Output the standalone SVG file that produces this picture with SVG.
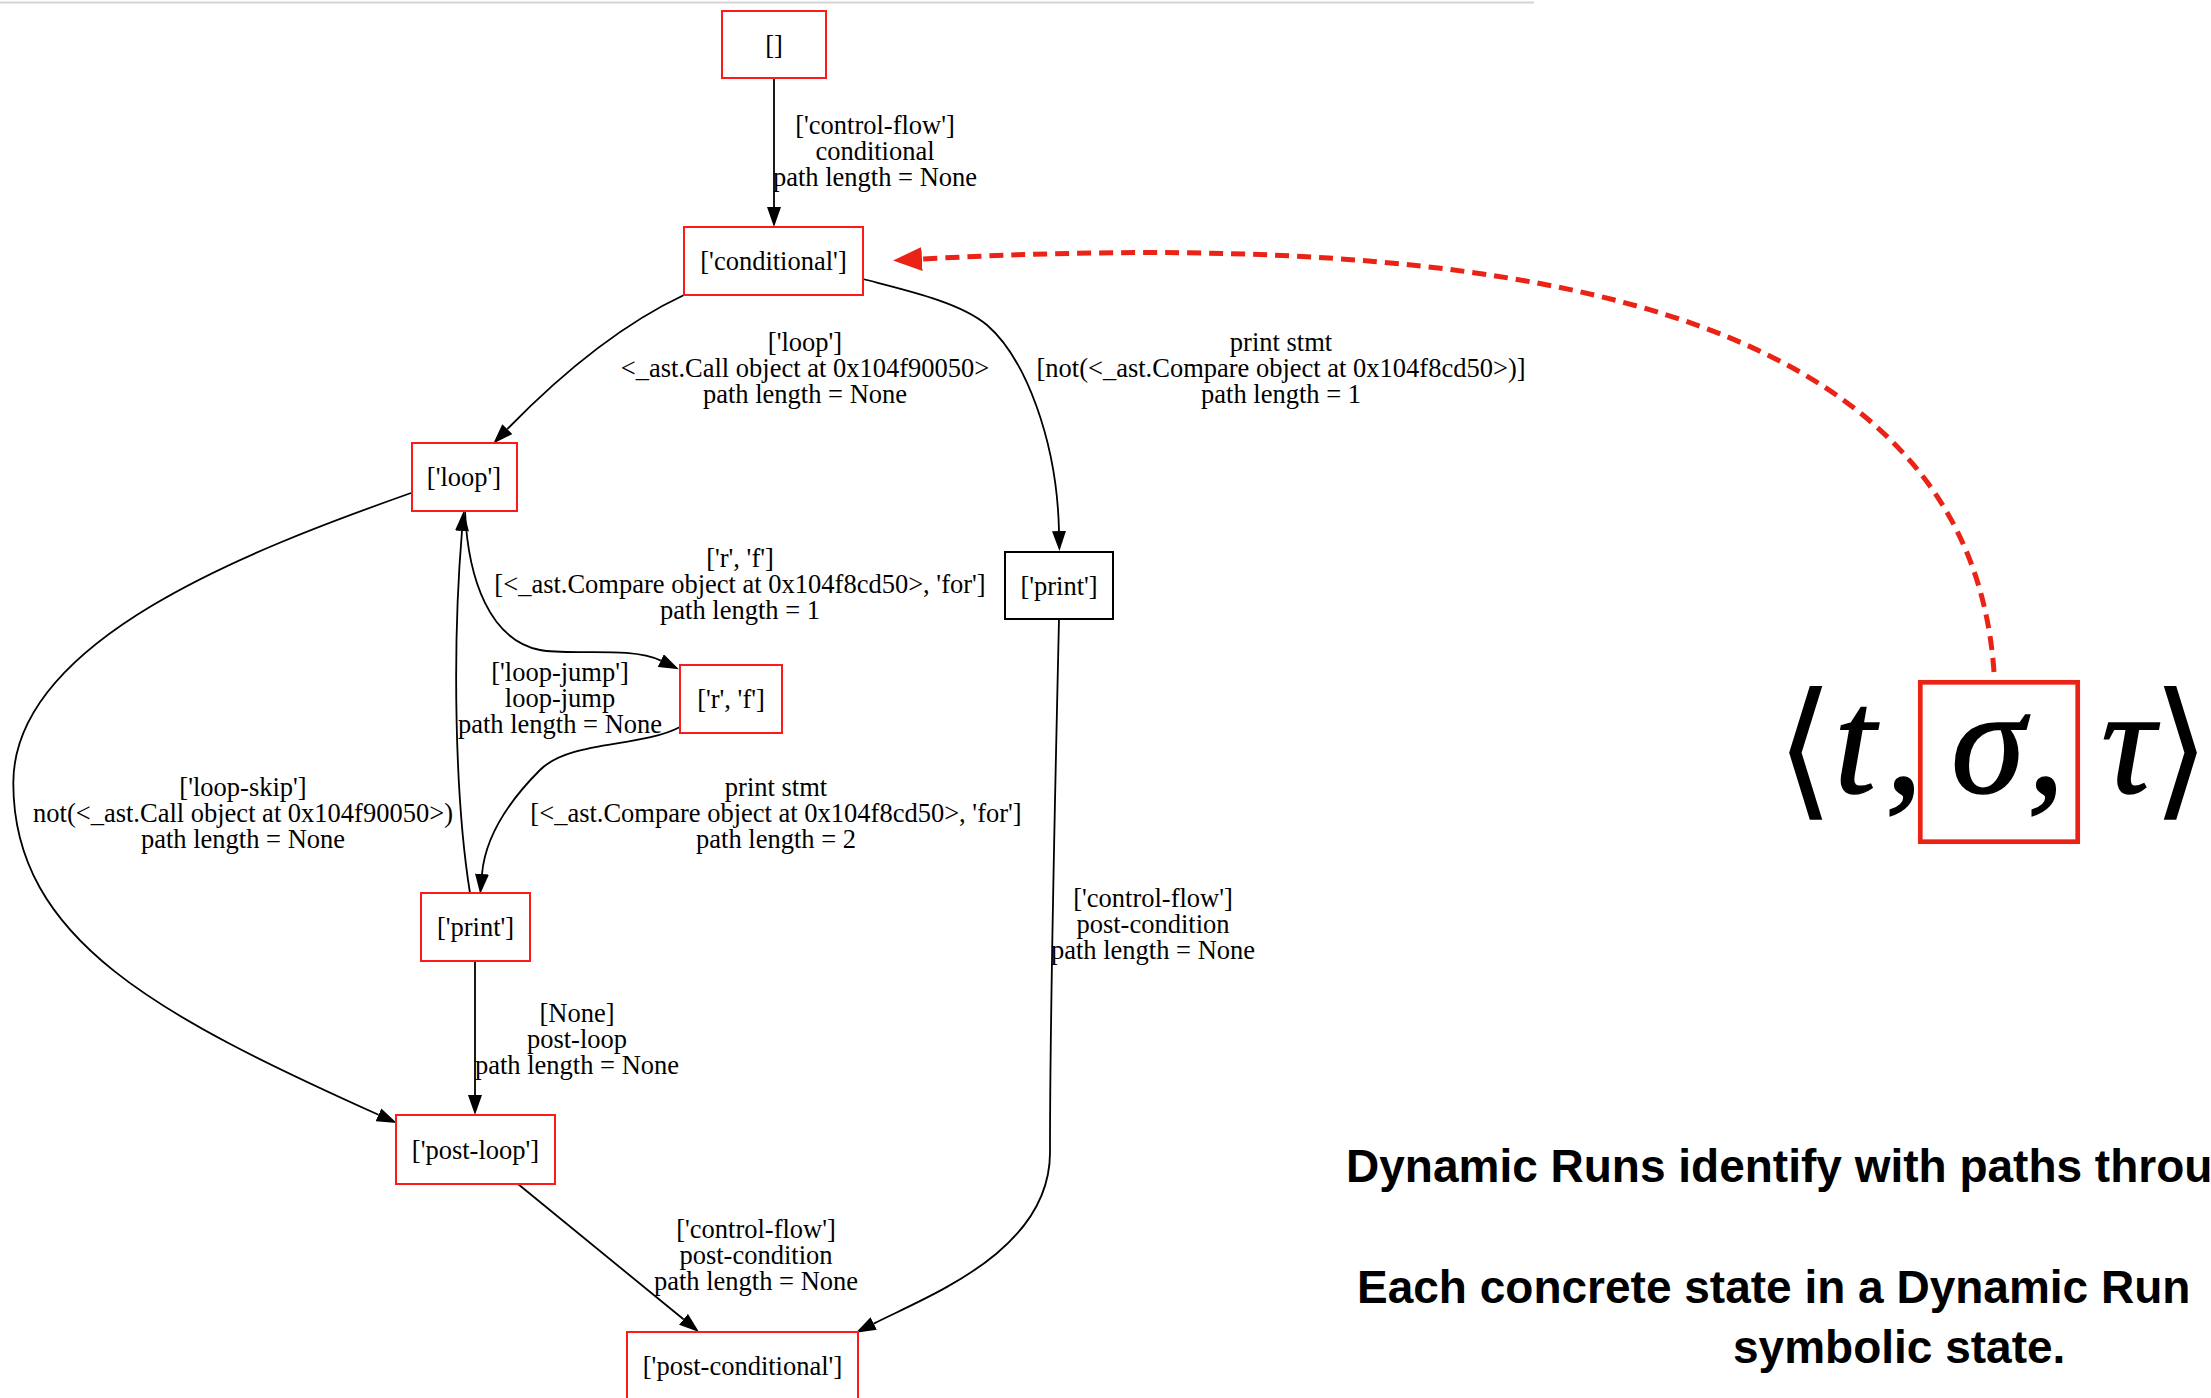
<svg xmlns="http://www.w3.org/2000/svg" width="2211" height="1398" viewBox="0 0 2211 1398">
<style>
.bg{fill:#ffffff}
.nd rect{fill:none;stroke:#ff1a1a;stroke-width:2}
.nd.blk rect{stroke:#000000}
.nd text,.lb text{font-family:"Liberation Serif","Times New Roman",serif;font-size:26.5px;fill:#000;text-anchor:middle}
.ed path{fill:none;stroke:#000;stroke-width:1.8}
.note{font-family:"Liberation Sans",Arial,sans-serif;font-size:46px;font-weight:bold;fill:#000}
.math{font-family:"Liberation Serif","Times New Roman",serif;font-style:italic;font-size:150px;fill:#000;stroke:#000;stroke-width:1.5;text-anchor:middle}
.brk{font-family:"DejaVu Sans","Liberation Serif",serif;font-size:150px;fill:#000;text-anchor:middle}
</style>
<defs>
<marker id="ah" markerUnits="userSpaceOnUse" viewBox="0 0 20 14" markerWidth="20" markerHeight="14" refX="0" refY="7" orient="auto">
<path d="M0,0 L20,7 L0,14 Z" fill="#000"/>
</marker>
<marker id="rah" markerUnits="userSpaceOnUse" viewBox="0 0 29 24" markerWidth="29" markerHeight="24" refX="0" refY="12" orient="auto">
<path d="M0,0 L29,12 L0,24 Z" fill="#ea2316"/>
</marker>
</defs>
<rect class="bg" x="0" y="0" width="2211" height="1398"/>
<line x1="0" y1="2.5" x2="1534" y2="2.5" stroke="#d4d4d4" stroke-width="2"/>

<g id="edges" class="ed">
<path d="M774,78 L774,207" marker-end="url(#ah)"/>
<path d="M684,295 C620,325 560,375 507.3,429.1" marker-end="url(#ah)"/>
<path d="M863,279 C905,290 960,302 987,325 C1025,358 1057,440 1059,531" marker-end="url(#ah)"/>
<path d="M411,493 C250,550 13.3,640 13.3,783 C13.3,940 160,1016.4 378.5,1114.8" marker-end="url(#ah)"/>
<path d="M465,511 C468,580 490,640 540,650 C570,656 630,646 660.8,660.6" marker-end="url(#ah)"/>
<path d="M680,727 C640,748 570,740 540,770 C505,805 485,840 482,874" marker-end="url(#ah)"/>
<path d="M470,893 C455,800 452,650 462,531" marker-end="url(#ah)"/>
<path d="M475,961 L475,1095" marker-end="url(#ah)"/>
<path d="M518,1184 L683.5,1319.3" marker-end="url(#ah)"/>
<path d="M1059,619 C1055,800 1050,1000 1050,1150 C1052,1250 930,1295 873.7,1323.6" marker-end="url(#ah)"/>
</g>

<g id="edge-labels" class="lb">
<text x="875" y="134">['control-flow']</text>
<text x="875" y="160">conditional</text>
<text x="875" y="186">path length = None</text>

<text x="805" y="351">['loop']</text>
<text x="805" y="377">&lt;_ast.Call object at 0x104f90050&gt;</text>
<text x="805" y="403">path length = None</text>

<text x="1281" y="351">print stmt</text>
<text x="1281" y="377">[not(&lt;_ast.Compare object at 0x104f8cd50&gt;)]</text>
<text x="1281" y="403">path length = 1</text>

<text x="740" y="567">['r', 'f']</text>
<text x="740" y="593">[&lt;_ast.Compare object at 0x104f8cd50&gt;, 'for']</text>
<text x="740" y="619">path length = 1</text>

<text x="560" y="680.5">['loop-jump']</text>
<text x="560" y="706.5">loop-jump</text>
<text x="560" y="732.5">path length = None</text>

<text x="243" y="795.5">['loop-skip']</text>
<text x="243" y="821.5">not(&lt;_ast.Call object at 0x104f90050&gt;)</text>
<text x="243" y="847.5">path length = None</text>

<text x="776" y="795.5">print stmt</text>
<text x="776" y="821.5">[&lt;_ast.Compare object at 0x104f8cd50&gt;, 'for']</text>
<text x="776" y="847.5">path length = 2</text>

<text x="1153" y="907">['control-flow']</text>
<text x="1153" y="933">post-condition</text>
<text x="1153" y="959">path length = None</text>

<text x="577" y="1022">[None]</text>
<text x="577" y="1048">post-loop</text>
<text x="577" y="1074">path length = None</text>

<text x="756" y="1238">['control-flow']</text>
<text x="756" y="1264">post-condition</text>
<text x="756" y="1290">path length = None</text>
</g>

<g id="node-empty" class="nd"><rect x="722" y="11" width="104" height="67"/><text x="774" y="53.5">[]</text></g>
<g id="node-conditional" class="nd"><rect x="684" y="227" width="179" height="68"/><text x="773.5" y="270">['conditional']</text></g>
<g id="node-loop" class="nd"><rect x="412" y="443" width="105" height="68"/><text x="464" y="486">['loop']</text></g>
<g id="node-print-black" class="nd blk"><rect x="1005" y="552" width="108" height="67"/><text x="1059" y="594.5">['print']</text></g>
<g id="node-rf" class="nd"><rect x="680" y="665" width="102" height="68"/><text x="731" y="708">['r', 'f']</text></g>
<g id="node-print" class="nd"><rect x="421" y="893" width="109" height="68"/><text x="475.5" y="936">['print']</text></g>
<g id="node-post-loop" class="nd"><rect x="396" y="1115" width="159" height="69"/><text x="475.5" y="1158.5">['post-loop']</text></g>
<g id="node-post-conditional" class="nd"><rect x="627" y="1332" width="231" height="68"/><text x="742.5" y="1375">['post-conditional']</text></g>

<g id="annotation">
<path d="M1994,672 C1968,300 1500,228 922,259" fill="none" stroke="#ea2316" stroke-width="5" stroke-dasharray="14 8" marker-end="url(#rah)"/>
<rect x="1920.3" y="682.3" width="157.4" height="159.4" fill="none" stroke="#ea2316" stroke-width="4.7"/>
<text class="brk" x="1805" y="800">⟨</text>
<text class="math" x="1855" y="793">t</text>
<text class="math" x="1904" y="793">,</text>
<text class="math" x="1988" y="793">σ</text>
<text class="math" x="2046" y="793">,</text>
<text class="math" x="2128" y="793">τ</text>
<text class="brk" x="2181" y="800">⟩</text>
</g>

<g id="notes">
<text class="note" x="1346" y="1182">Dynamic Runs identify with paths throu</text>
<text class="note" x="1357" y="1303">Each concrete state in a Dynamic Run</text>
<text class="note" x="1733" y="1363">symbolic state.</text>
</g>
</svg>
